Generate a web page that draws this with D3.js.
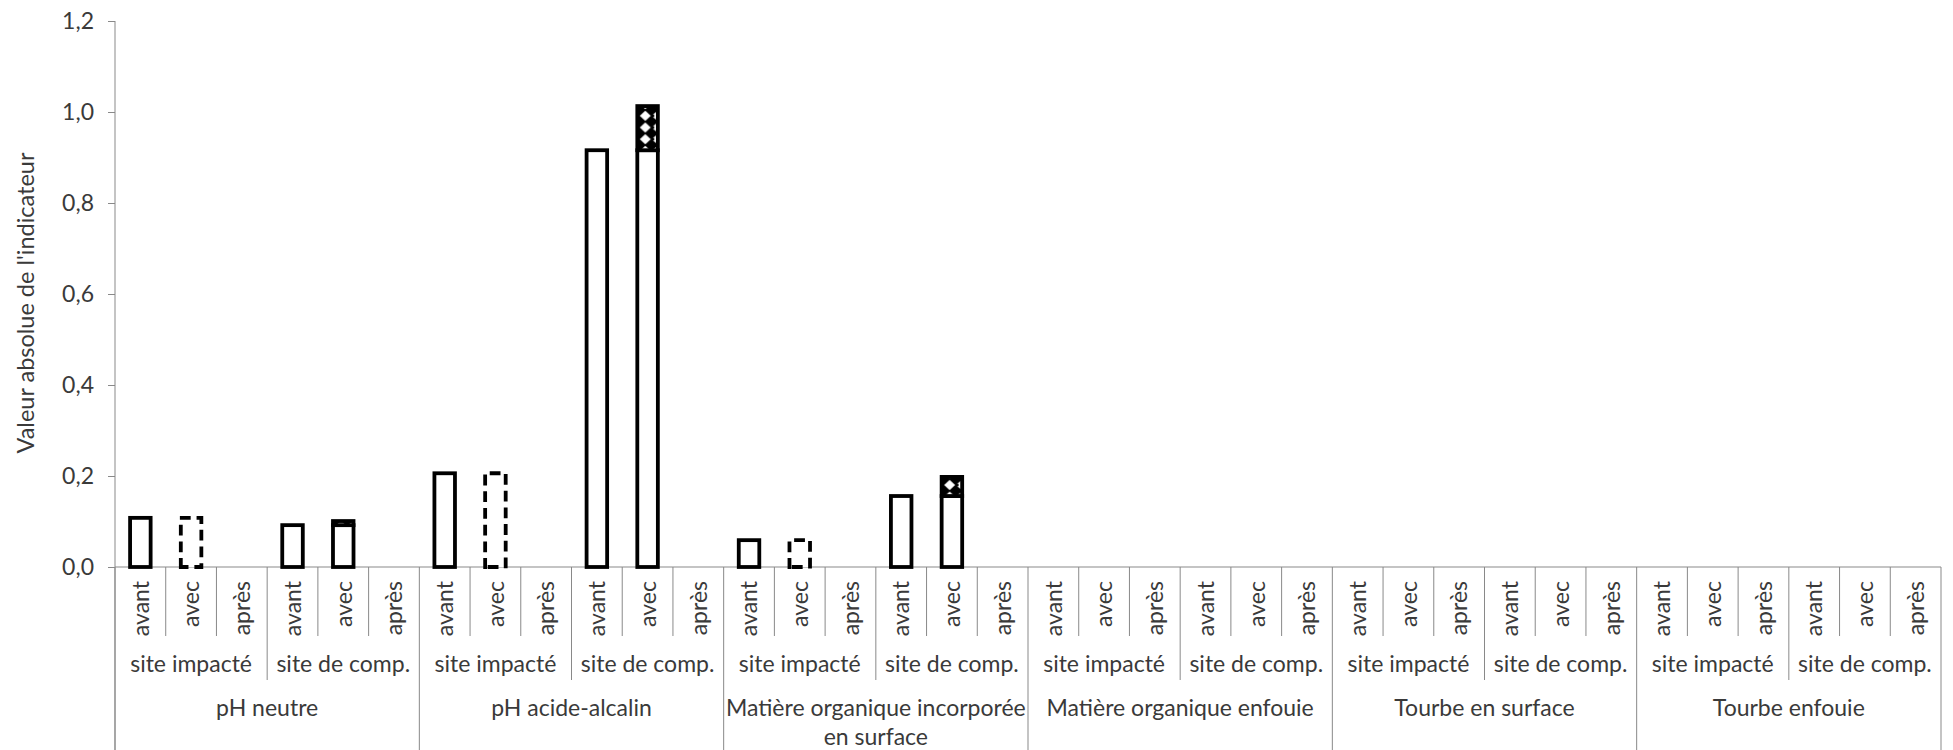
<!DOCTYPE html>
<html>
<head>
<meta charset="utf-8">
<script src="https://cdn.jsdelivr.net/npm/d3@7/dist/d3.min.js"></script>
<style>
  html, body { margin: 0; padding: 0; background: #fff; }
  svg { display: block; }
  text { font-family: "Lato", "Open Sans", sans-serif; fill: #3a3a3a; }
</style>
</head>
<body>
<svg id="chart" width="1953" height="750"></svg>
<script>
// ---------- data ----------
const groups = ["pH neutre", "pH acide-alcalin", "Matière organique incorporée en surface",
                "Matière organique enfouie", "Tourbe en surface", "Tourbe enfouie"];
const sites = ["site impacté", "site de comp."];
const periods = ["avant", "avec", "après"];

// one value per slot (group x site x period), 36 slots
const solidValues = [
  0.108, 0, 0, 0.092, 0.092, 0,
  0.206, 0, 0, 0.916, 0.916, 0,
  0.059, 0, 0, 0.156, 0.156, 0,
  0, 0, 0, 0, 0, 0,
  0, 0, 0, 0, 0, 0,
  0, 0, 0, 0, 0, 0
];
const dashedValues = [
  0, 0.108, 0, 0, 0, 0,
  0, 0.206, 0, 0, 0, 0,
  0, 0.059, 0, 0, 0, 0,
  0, 0, 0, 0, 0, 0,
  0, 0, 0, 0, 0, 0,
  0, 0, 0, 0, 0, 0
];
const gainValues = [
  0, 0, 0, 0, 0.009, 0,
  0, 0, 0, 0, 0.097, 0,
  0, 0, 0, 0, 0.042, 0,
  0, 0, 0, 0, 0, 0,
  0, 0, 0, 0, 0, 0,
  0, 0, 0, 0, 0, 0
];
const yTicks = [0, 0.2, 0.4, 0.6, 0.8, 1.0, 1.2];
const yTitle = "Valeur absolue de l'indicateur";

// ---------- layout ----------
const svg = d3.select("#chart");
const plotLeft = 115, plotRight = 1941, plotTop = 21, plotBottom = 567;
const fontSize = 23;
const axisColor = "#898989";

const slots = [];
groups.forEach((g, gi) => sites.forEach((s, si) => periods.forEach((p, pi) => {
  const i = slots.length;
  slots.push({i, group: g, site: s, period: p,
              solid: solidValues[i], dashed: dashedValues[i], gain: gainValues[i]});
})));

const x = d3.scaleBand().domain(d3.range(slots.length)).range([plotLeft, plotRight]).padding(0);
const y = d3.scaleLinear().domain([0, 1.2]).range([plotBottom, plotTop]);
const bw = x.bandwidth();
const barW = bw * 0.405;
const strokeW = 3.8;

const locale = d3.formatLocale({decimal: ",", thousands: " ", grouping: [3], currency: ["", "€"]});
const fmt = locale.format(".1f");

// ---------- y axis ----------
const yAxis = d3.axisLeft(y).tickValues(yTicks).tickFormat(fmt)
  .tickSize(7).tickSizeOuter(0).tickPadding(14);
const gy = svg.append("g").attr("transform", `translate(${plotLeft},0)`).call(yAxis);
gy.select(".domain").remove();
gy.selectAll(".tick line").attr("stroke", axisColor);
gy.selectAll(".tick text").style("font-size", fontSize + "px")
  .style("font-family", "Lato, 'Open Sans', sans-serif").attr("fill", "#3a3a3a");

svg.append("line").attr("x1", plotLeft).attr("x2", plotLeft).attr("y1", y(1.2)).attr("y2", 750)
  .attr("stroke", axisColor).attr("stroke-width", 1);

svg.append("text")
  .attr("transform", `translate(34,${(y(0) + y(1.2)) / 2 + 9}) rotate(-90)`)
  .attr("text-anchor", "middle")
  .style("font-size", (fontSize + 0.5) + "px")
  .text(yTitle);

// ---------- x axis (multi-level) ----------
svg.append("line").attr("x1", plotLeft).attr("x2", plotRight).attr("y1", plotBottom).attr("y2", plotBottom)
  .attr("stroke", axisColor).attr("stroke-width", 1);

const bounds = d3.range(slots.length + 1);
svg.append("g").selectAll("line").data(bounds).join("line")
  .attr("x1", i => i < slots.length ? x(i) : plotRight)
  .attr("x2", i => i < slots.length ? x(i) : plotRight)
  .attr("y1", plotBottom)
  .attr("y2", i => i % 6 === 0 ? 750 : (i % 3 === 0 ? 680 : 636))
  .attr("stroke", axisColor).attr("stroke-width", 1);

// level 1 : periods (rotated)
svg.append("g").selectAll("text").data(slots).join("text")
  .attr("transform", d => `translate(${x(d.i) + bw / 2},581) rotate(-90)`)
  .attr("text-anchor", "end")
  .attr("dy", "0.36em")
  .style("font-size", fontSize + "px")
  .text(d => d.period);

// level 2 : sites
const siteData = [];
groups.forEach((g, gi) => sites.forEach((s, si) => siteData.push({label: s, start: gi * 6 + si * 3})));
svg.append("g").selectAll("text").data(siteData).join("text")
  .attr("x", d => x(d.start) + bw * 1.5)
  .attr("y", 672)
  .attr("text-anchor", "middle")
  .style("font-size", fontSize + "px")
  .text(d => d.label);

// level 3 : groups (wrapped)
const groupData = groups.map((g, gi) => ({label: g, start: gi * 6}));
const gt = svg.append("g").selectAll("text").data(groupData).join("text")
  .attr("x", d => x(d.start) + bw * 3)
  .attr("y", 716)
  .attr("text-anchor", "middle")
  .style("font-size", fontSize + "px");
gt.each(function(d) {
  const t = d3.select(this);
  const words = d.label.split(" ");
  const maxW = bw * 6 + 4;
  let line = [];
  let tspan = t.append("tspan").attr("x", x(d.start) + bw * 3).attr("dy", 0);
  words.forEach(w => {
    line.push(w);
    tspan.text(line.join(" "));
    if (tspan.node().getComputedTextLength() > maxW && line.length > 1) {
      line.pop();
      tspan.text(line.join(" "));
      line = [w];
      tspan = t.append("tspan").attr("x", x(d.start) + bw * 3).attr("dy", 29).text(w);
    }
  });
});

// ---------- patterns for gain segments ----------
const defs = svg.append("defs");
slots.filter(d => d.gain > 0).forEach(d => {
  const bx = x(d.i) + (bw - barW) / 2;
  const segBottom = y(d.solid);
  const th = 11.7;
  const p = defs.append("pattern")
    .attr("id", "pat" + d.i)
    .attr("patternUnits", "userSpaceOnUse")
    .attr("x", bx).attr("y", segBottom - 11 - th / 2)
    .attr("width", 40).attr("height", th);
  p.append("rect").attr("width", 40).attr("height", th).attr("fill", "#000");
  const cx = 8, cy = th / 2;
  p.append("path").attr("fill", "#fff")
    .attr("d", `M${cx - 5.5},${cy} L${cx},${cy - 5} L${cx + 5.5},${cy} L${cx},${cy + 5} Z`);
  p.append("path").attr("fill", "#fff")
    .attr("d", `M${cx + 6},${cy} L${cx + 11.5},${cy - 4.5} L${cx + 11.5},${cy + 4.5} Z`);
  p.append("circle").attr("cx", cx + 7.4).attr("cy", cy).attr("r", 1.7).attr("fill", "#000");
});

// ---------- bars ----------
const bars = svg.append("g");
bars.selectAll("rect.solid").data(slots.filter(d => d.solid > 0)).join("rect")
  .attr("class", "solid")
  .attr("x", d => x(d.i) + (bw - barW) / 2)
  .attr("width", barW)
  .attr("y", d => y(d.solid))
  .attr("height", d => y(0) - y(d.solid))
  .attr("fill", "#fff").attr("stroke", "#000").attr("stroke-width", strokeW);

// dashed outline: path drawn from bottom-left, up, across, down, back along bottom
bars.selectAll("path.dashed").data(slots.filter(d => d.dashed > 0)).join("path")
  .attr("class", "dashed")
  .attr("d", d => {
    const x0 = x(d.i) + (bw - barW) / 2, x1 = x0 + barW;
    const y0 = y(0), y1 = y(d.dashed);
    return `M${x0},${y0} V${y1} H${x1} V${y0} Z`;
  })
  .attr("fill", "#fff").attr("stroke", "#000").attr("stroke-width", strokeW)
  .attr("stroke-linecap", "square")
  .attr("stroke-dasharray", "7,9.7");

bars.selectAll("rect.gain").data(slots.filter(d => d.gain > 0)).join("rect")
  .attr("class", "gain")
  .attr("x", d => x(d.i) + (bw - barW) / 2)
  .attr("width", barW)
  .attr("y", d => y(d.solid + d.gain))
  .attr("height", d => y(d.solid) - y(d.solid + d.gain))
  .attr("fill", d => `url(#pat${d.i})`).attr("stroke", "#000").attr("stroke-width", strokeW);
</script>
</body>
</html>
